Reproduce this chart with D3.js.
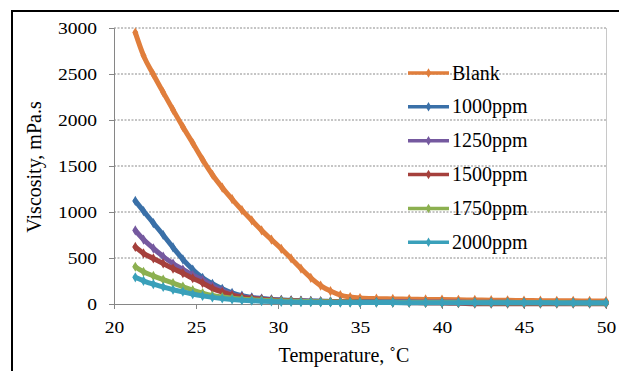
<!DOCTYPE html>
<html>
<head>
<meta charset="utf-8">
<script src="https://cdn.jsdelivr.net/npm/d3@7"></script>
<style>
  body { margin: 0; background: #fff; }
  svg { display: block; }
  text { font-family: "Liberation Serif", "Times New Roman", serif; fill: #000; }
</style>
</head>
<body>
<svg id="chart"></svg>
<script>
// Viscosity vs temperature

const temps = [21.3, 21.8, 22.4, 23.0, 23.6, 24.2, 24.8, 25.4, 26.0, 26.6, 27.2, 27.8, 28.4,
  29.0, 29.6, 30.2, 30.8, 31.4, 32.0, 32.6, 33.2, 33.8, 34.4, 35, 36, 37, 38, 39, 40,
  41, 42, 43, 44, 45, 46, 47, 48, 49, 50];

const blank = [2950, 2700, 2495, 2300, 2110, 1925, 1750, 1570, 1405, 1265, 1140, 1020, 910,
  800, 700, 600, 495, 385, 285, 200, 140, 97, 76, 65, 58, 55, 52, 50, 48,
  45, 44, 42, 40, 38, 36, 35, 34, 33, 32];
const ppm1000 = [1120, 1010, 880, 750, 615, 485, 375, 285, 220, 165, 120, 90, 72,
  60, 50, 44, 40, 36, 33, 30, 28, 26, 25, 24, 23, 22, 21, 20, 20,
  19, 19, 18, 18, 17, 17, 16, 16, 15, 15];
const ppm1250 = [800, 700, 605, 515, 440, 375, 315, 262, 195, 145, 105, 80, 65,
  55, 47, 42, 38, 34, 31, 29, 27, 25, 24, 23, 22, 21, 20, 19, 18,
  18, 17, 17, 16, 16, 15, 15, 15, 14, 14];
const ppm1500 = [620, 550, 495, 440, 385, 335, 280, 228, 170, 130, 95, 75, 60,
  50, 43, 38, 34, 31, 28, 26, 24, 23, 22, 20, 18, 16, 14, 12, 10,
  8, 4, 3, 3, 3, 3, 3, 3, 3, 3];
const ppm1750 = [405, 350, 305, 265, 228, 190, 150, 118, 92, 75, 62, 52, 45,
  40, 36, 33, 30, 28, 26, 24, 23, 22, 21, 20, 19, 18, 17, 16, 16,
  15, 15, 14, 14, 13, 13, 13, 12, 12, 12];
const ppm2000 = [290, 252, 215, 185, 155, 133, 108, 88, 72, 60, 50, 42, 36,
  31, 27, 24, 22, 20, 19, 18, 17, 16, 16, 15, 15, 15, 14, 14, 14,
  14, 13, 13, 13, 13, 13, 12, 12, 12, 12];

const seriesNames = ['Blank', '1000ppm', '1250ppm', '1500ppm', '1750ppm', '2000ppm'];
const seriesValues = [blank, ppm1000, ppm1250, ppm1500, ppm1750, ppm2000];
const seriesColors = ['#e07e3c', '#3a70a8', '#75599f', '#a5403c', '#8cb050', '#3aa0ba'];

const xTicks = [20, 25, 30, 35, 40, 45, 50];
const yTicks = [0, 500, 1000, 1500, 2000, 2500, 3000];

// Layout
const width = 619;
const height = 371;
const plot = { left: 114, right: 606, top: 28, bottom: 304 };
const serif = '"Liberation Serif", "Times New Roman", serif';

const svg = d3.select('#chart')
  .attr('width', width)
  .attr('height', height);

// Outer frame (runs off the right and bottom edges like in the picture)
svg.append('rect')
  .attr('x', 12).attr('y', 11)
  .attr('width', width).attr('height', height)
  .attr('fill', 'none')
  .attr('stroke', '#000')
  .attr('stroke-width', 2);

const x = d3.scaleLinear().domain([20, 50]).range([plot.left, plot.right]);
const y = d3.scaleLinear().domain([0, 3000]).range([plot.bottom, plot.top]);

// Dotted gridlines
svg.append('g')
  .selectAll('line')
  .data(yTicks.filter(d => d > 0))
  .enter().append('line')
  .attr('x1', plot.left).attr('x2', plot.right)
  .attr('y1', d => y(d)).attr('y2', d => y(d))
  .attr('stroke', '#8a8a8a')
  .attr('stroke-width', 1)
  .attr('stroke-dasharray', '2,1.5');

// Right side of plot area
svg.append('line')
  .attr('x1', plot.right + 0.5).attr('x2', plot.right + 0.5)
  .attr('y1', plot.top).attr('y2', plot.bottom)
  .attr('stroke', '#c8c8c8');

// Axes
const xAxis = svg.append('g')
  .attr('transform', `translate(0,${plot.bottom})`)
  .call(d3.axisBottom(x).tickValues(xTicks).tickSize(5).tickFormat(d3.format('d')));

const yAxis = svg.append('g')
  .attr('transform', `translate(${plot.left},0)`)
  .call(d3.axisLeft(y).tickValues(yTicks).tickSize(5).tickFormat(d3.format('d')));

[xAxis, yAxis].forEach(ax => {
  ax.attr('font-family', serif).attr('font-size', 17);
  ax.select('.domain').attr('stroke', '#868686');
  ax.selectAll('.tick line').attr('stroke', '#868686');
  ax.selectAll('.tick text')
    .attr('font-family', serif)
    .attr('fill', '#000');
});

// tick labels in the picture are a little wider than plain Times
xAxis.selectAll('.tick text')
  .attr('dy', null)
  .attr('y', 0)
  .attr('transform', 'translate(0,29) scale(1.15,1)');
yAxis.selectAll('.tick text')
  .attr('dy', '0.33em')
  .attr('x', 0)
  .attr('transform', 'translate(-17,0) scale(1.15,1)');

// Series
const line = d3.line()
  .x((d, i) => x(temps[i]))
  .y(d => y(d))
  .curve(d3.curveMonotoneX);

const marker = d3.symbol().type(d3.symbolDiamond).size(30);

seriesValues.forEach((vals, k) => {
  const g = svg.append('g').attr('class', 'series');
  g.append('path')
    .datum(vals)
    .attr('d', line)
    .attr('fill', 'none')
    .attr('stroke', seriesColors[k])
    .attr('stroke-width', 5)
    .attr('stroke-linejoin', 'round')
    .attr('stroke-linecap', 'round');
  g.selectAll('path.pt')
    .data(vals)
    .enter().append('path')
    .attr('class', 'pt')
    .attr('d', marker)
    .attr('transform', (d, i) => `translate(${x(temps[i])},${y(d)})`)
    .attr('fill', seriesColors[k]);
});

// Legend
const legend = svg.append('g')
  .selectAll('g')
  .data(seriesNames)
  .enter().append('g')
  .attr('transform', (d, i) => `translate(408,${73 + i * 33.85})`);

legend.append('line')
  .attr('x1', 0).attr('x2', 41)
  .attr('stroke', (d, i) => seriesColors[i])
  .attr('stroke-width', 3.5);

legend.append('path')
  .attr('d', d3.symbol().type(d3.symbolDiamond).size(26))
  .attr('transform', 'translate(20.5,0)')
  .attr('fill', (d, i) => seriesColors[i]);

legend.append('text')
  .attr('x', 44)
  .attr('dy', '0.33em')
  .style('font-size', '20px')
  .text(d => d);

// Axis titles
svg.append('text')
  .attr('x', 344)
  .attr('y', 362)
  .attr('text-anchor', 'middle')
  .style('font-size', '20px')
  .text('Temperature, ˚C');

svg.append('text')
  .attr('transform', 'translate(41,167) rotate(-90)')
  .attr('text-anchor', 'middle')
  .style('font-size', '20px')
  .text('Viscosity, mPa.s');
</script>
</body>
</html>
